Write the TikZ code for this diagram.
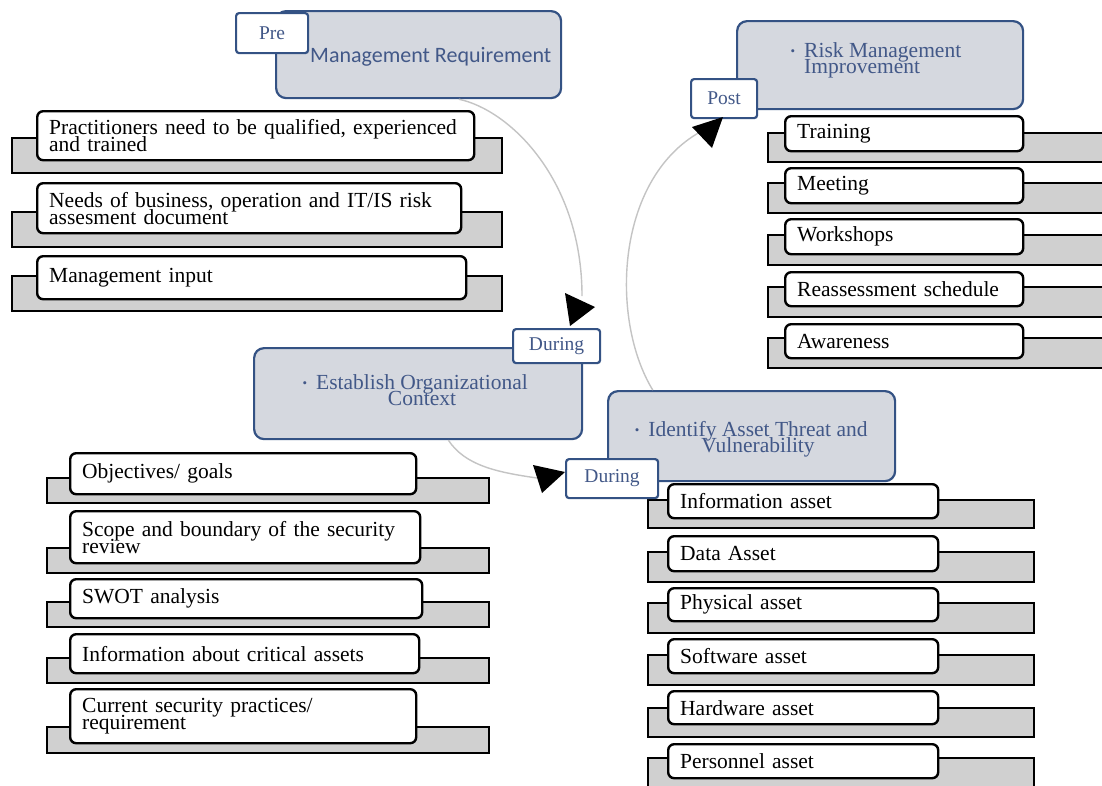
\documentclass[tikz,border=0pt]{standalone}
\usepackage{fontspec}
\usepackage{graphicx}
\setmainfont{Liberation Serif}
\newfontfamily\headsans{Carlito}

\definecolor{hdrfill}{RGB}{213,216,223}
\definecolor{hdrline}{RGB}{52,82,132}
\definecolor{hdrtext}{RGB}{66,88,136}
\definecolor{shelffill}{RGB}{208,208,208}
\definecolor{arcgray}{RGB}{196,196,196}

% font set-ups (tight leading, lines allowed to overlap)
\newcommand\entryfont{\fontsize{21.5}{17}\selectfont\lineskiplimit=-100pt\lineskip=0pt}
\newcommand\headserif{\fontsize{21.5}{16}\selectfont\lineskiplimit=-100pt\lineskip=0pt}
\newcommand\tabfont{\fontsize{19.5}{20}\selectfont}
\newcommand\bulletmark{\llap{\raisebox{1.5pt}{\scalebox{0.6}{\textbullet}}\hspace{9pt}}}

% one list entry: a grey shelf with a white rounded box on top of it
% #1 name, #2 box left, #3 box right, #4 box top, #5 box bottom,
% #6 shelf top, #7 shelf bottom, #8 text
\newcommand{\stackentry}[8]{%
  \pgfmathsetmacro\entW{#3-#2}%
  \pgfmathsetmacro\entH{#5-#4}%
  \pgfmathsetmacro\entT{#3-#2-24}%
  \draw[shelf] (\shelfL,#6) rectangle (\shelfR,#7);
  \node[entry, minimum width=\entW pt, minimum height=\entH pt,
        text width=\entT pt, anchor=north west] (#1) at (#2,#4) {#8};
}

\begin{document}
\begin{tikzpicture}[x=1pt,y=-1pt,
  header/.style={draw=hdrline, fill=hdrfill, line width=2.2pt, rounded corners=10pt,
                 inner sep=0pt, anchor=north west},
  tab/.style={draw=hdrline, fill=white, line width=2.2pt, rounded corners=3pt,
              inner sep=0pt, anchor=north west, font=\tabfont, text=hdrtext},
  shelf/.style={draw=black, fill=shelffill, line width=2.4pt},
  entry/.style={draw=black, fill=white, line width=2.4pt, rounded corners=6pt,
                inner xsep=12pt, inner ysep=0pt, align=left, font=\entryfont},
  headtext/.style={text=hdrtext, inner sep=0pt, font=\headserif},
  cyclearc/.style={draw=arcgray, line width=1.4pt},
  tip/.style={fill=black}]

\useasboundingbox (0,0) rectangle (1102,785);
\clip (0,0) rectangle (1102,785);
\fill[white] (0,0) rectangle (1102,785);

% ---------- phase headers ----------
\node[header, minimum width=285pt, minimum height=87pt] (mgmt) at (275,10) {};
\node[header, minimum width=328pt, minimum height=91pt] (est) at (253,347) {};
\node[header, minimum width=287pt, minimum height=90pt] (idt) at (607,390) {};
\node[header, minimum width=286pt, minimum height=88pt] (risk) at (736,20) {};

\node[anchor=base west, inner sep=0pt, text=hdrtext, font=\headsans\fontsize{22}{24}\selectfont]
  (mgmttext) at (310,62) {Management Requirement};
\node[headtext, anchor=north, align=center] (esttext) at (422,374)
  {\bulletmark Establish Organizational\\Context};
\node[headtext, anchor=north, align=center] (idttext) at (758,421)
  {\bulletmark Identify Asset Threat and\\Vulnerability};
\node[headtext, anchor=north west, align=left] (risktext) at (804,42)
  {\bulletmark Risk Management\\Improvement};

% ---------- cycle arcs ----------
\coordinate (arcA) at (582,296);
\coordinate (arcB) at (537,478);
\coordinate (arcC) at (700,132);
\draw[cyclearc] (mgmt.-48) .. controls (510,110) and (582,180) .. (arcA);
\draw[cyclearc] (est.-57) .. controls (465,465) and (495,472) .. (arcB);
\draw[cyclearc] (idt.155) .. controls (610,320) and (615,180) .. (arcC);

% ---------- management requirement list ----------
\def\shelfL{12}\def\shelfR{502}
\stackentry{m1}{36}{473}{110}{159}{138}{173}{Practitioners need to be qualified, experienced\\and trained}
\stackentry{m2}{36}{460}{182}{232}{212}{247}{Needs of business, operation and IT/IS risk\\assesment document}
\stackentry{m3}{36}{465}{255}{298}{276}{311}{Management input}

% ---------- organizational context list ----------
\def\shelfL{47}\def\shelfR{489}
\stackentry{c1}{69}{415}{452}{493}{478}{503}{Objectives/ goals}
\stackentry{c2}{69}{419}{510}{562}{548}{573}{Scope and boundary of the security\\review}
\stackentry{c3}{69}{421}{578}{617}{602}{627}{SWOT analysis}
\stackentry{c4}{69}{418}{633}{672}{658}{683}{Information about critical assets}
\stackentry{c5}{69}{415}{688}{742}{727}{753}{Current security practices/\\requirement}

% ---------- asset list ----------
\def\shelfL{648}\def\shelfR{1034}
\stackentry{s1}{667}{937}{483}{517}{500}{528}{Information asset}
\stackentry{s2}{667}{937}{535}{570}{552}{582}{Data Asset}
\stackentry{s3}{667}{937}{587}{620}{603}{633}{Physical asset}
\stackentry{s4}{667}{937}{638}{672}{655}{685}{Software asset}
\stackentry{s5}{667}{937}{690}{723}{708}{737}{Hardware asset}
\stackentry{s6}{667}{937}{743}{777}{758}{800}{Personnel asset}

% ---------- improvement list ----------
\def\shelfL{768}\def\shelfR{1120}
\stackentry{r1}{784}{1022}{115}{150}{133}{162}{Training}
\stackentry{r2}{784}{1022}{167}{202}{183}{213}{Meeting}
\stackentry{r3}{784}{1022}{218}{253}{235}{265}{Workshops}
\stackentry{r4}{784}{1022}{271}{305}{287}{317}{Reassessment schedule}
\stackentry{r5}{784}{1022}{323}{357}{338}{368}{Awareness}

% ---------- phase tabs ----------
\node[tab, minimum width=72pt, minimum height=40pt] (pre) at (235,12) {Pre};
\node[tab, minimum width=87pt, minimum height=34pt] (during1) at (512,328) {During};
\node[tab, minimum width=92pt, minimum height=39pt] (during2) at (565,458) {During};
\node[tab, minimum width=66pt, minimum height=39pt] (post) at (690,78) {Post};

% ---------- arrow heads ----------
\fill[tip] (565,293) -- (595,307) -- (570,326) -- cycle;
\fill[tip] (533,465) -- (565,472) -- (542,493) -- cycle;
\fill[tip] (692,127) -- (723,117) -- (712,148) -- cycle;

\end{tikzpicture}
\end{document}
